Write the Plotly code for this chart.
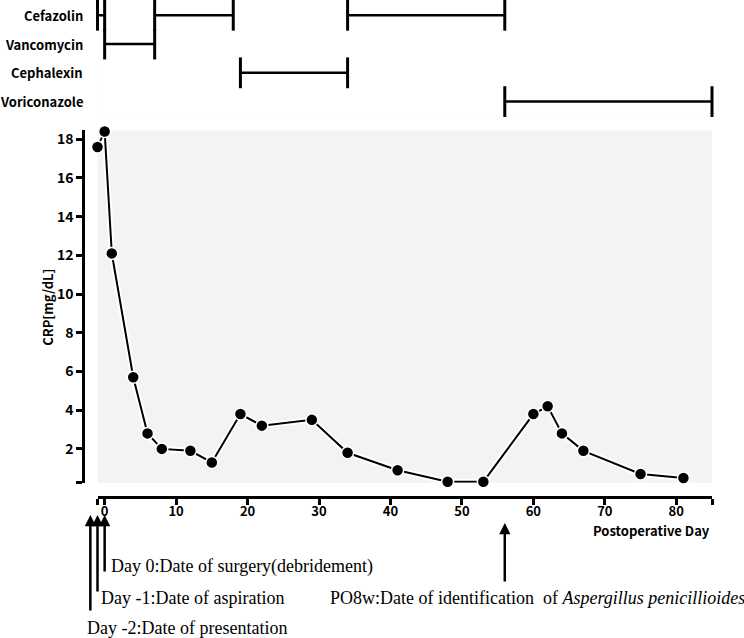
import plotly.graph_objects as go

# CRP course
days = [-1, 0, 1, 4, 6, 8, 12, 15, 19, 22, 29, 34, 41, 48, 53, 60, 62, 64, 67, 75, 81]
crp = [17.6, 18.4, 12.1, 5.7, 2.8, 2.0, 1.9, 1.3, 3.8, 3.2, 3.5, 1.8, 0.9, 0.3, 0.3,
       3.8, 4.2, 2.8, 1.9, 0.7, 0.5]

# antibiotic periods (start/end days)
abx_names = ["Cefazolin", "Vancomycin", "Cephalexin", "Voriconazole"]
abx_rows = [4, 3, 2, 1]
abx_start = [[-1, 7, 34], [0], [19], [56]]
abx_end = [[0, 18, 56], [7], [34], [85]]

# event arrows
event_days = [-2, -1, 0, 56]

x_ticks = [-1, 0, 10, 20, 30, 40, 50, 60, 70, 80, 85]
x_ticktext = ["", "0", "10", "20", "30", "40", "50", "60", "70", "80", ""]
y_ticks = [0.25, 2, 4, 6, 8, 10, 12, 14, 16, 18]
y_ticktext = ["", "2", "4", "6", "8", "10", "12", "14", "16", "18"]

X_RANGE = [-1, 85]
Y_RANGE = [0.25, 18.45]

W, H = 744, 638
ML, MR, MT, MB = 83, 32, 0, 141
PW = W - ML - MR
PH = H - MT - MB
XD0 = (97.5 - ML) / PW


def px_to_paper_y(py):
    return (PH - py) / PH


def px_to_paper_x(px):
    return (px - ML) / PW


def day_to_paper_x(d):
    return XD0 + (d - X_RANGE[0]) / (X_RANGE[1] - X_RANGE[0]) * (1 - XD0)


SANS = "Noto Sans CJK KR"
SERIF = "Liberation Serif"

fig = go.Figure()

# halo line + main line
fig.add_trace(go.Scatter(x=days, y=crp, mode="lines", line=dict(color="white", width=6),
                         hoverinfo="skip", showlegend=False, cliponaxis=False))
fig.add_trace(go.Scatter(x=days, y=crp, mode="lines+markers",
                         line=dict(color="black", width=2),
                         marker=dict(color="black", size=12, line=dict(color="white", width=1.5)),
                         showlegend=False, cliponaxis=False))

# antibiotic timeline
for name, row, starts, ends in zip(abx_names, abx_rows, abx_start, abx_end):
    lx, ly, cx, cy = [], [], [], []
    for s, e in zip(starts, ends):
        lx += [s, e, None]
        ly += [row, row, None]
        cx += [s, e]
        cy += [row, row]
    fig.add_trace(go.Scatter(x=lx, y=ly, mode="lines", line=dict(color="black", width=2.5),
                             xaxis="x2", yaxis="y2", showlegend=False, cliponaxis=False,
                             hoverinfo="skip"))
    fig.add_trace(go.Scatter(x=cx, y=cy, mode="markers",
                             marker=dict(symbol="line-ns", size=22,
                                         line=dict(color="black", width=3)),
                             xaxis="x2", yaxis="y2", showlegend=False, cliponaxis=False,
                             hoverinfo="skip"))
    fig.add_annotation(text=name, xref="paper", yref="y2", x=0, y=row, xanchor="right",
                       yanchor="middle", showarrow=False, xshift=2,
                       font=dict(family=SANS, size=13, color="black", weight="bold"))

# arrows
arrow_tip_px = [515, 515, 515, 523]
arrow_len = [97, 78, 58, 60]
for d, tip, ln in zip(event_days, arrow_tip_px, arrow_len):
    fig.add_annotation(text="", xref="paper", yref="paper", x=day_to_paper_x(d),
                       y=px_to_paper_y(tip), ax=0, ay=ln, showarrow=True,
                       arrowhead=2, arrowsize=0.9, arrowwidth=2.5, arrowcolor="black")

event_texts = [
    ("Day 0:Date of surgery(debridement)", 109, 566.7),
    ("Day -1:Date of aspiration", 99, 598.3),
    ("Day -2:Date of presentation", 85, 628.3),
    ("PO8w:Date of identification&nbsp; of <i>Aspergillus penicillioides</i>", 328, 598.3),
]
for txt, lx, cy in event_texts:
    fig.add_annotation(text=txt, xref="paper", yref="paper", x=px_to_paper_x(lx),
                       y=px_to_paper_y(cy), xanchor="left", yanchor="middle",
                       showarrow=False, font=dict(family=SERIF, size=18, color="black"))

fig.add_annotation(text="CRP[mg/dL]", xref="paper", yref="paper",
                   x=px_to_paper_x(48), y=px_to_paper_y(307), textangle=-90,
                   xanchor="center", yanchor="middle", showarrow=False,
                   font=dict(family=SANS, size=13, color="black", weight="bold"))
fig.add_annotation(text="Postoperative Day", xref="paper", yref="paper",
                   x=1.0, y=px_to_paper_y(531), xanchor="right", yanchor="middle",
                   showarrow=False,
                   font=dict(family=SANS, size=13, color="black", weight="bold"))

tickfont = dict(family=SANS, size=14, color="black", weight="bold")
xtickfont = dict(family=SANS, size=13, color="black", weight="bold")
main_y_dom = [px_to_paper_y(482.7), px_to_paper_y(129)]
abx_y_dom = [px_to_paper_y(114), 1.0]

fig.update_layout(
    width=W, height=H,
    margin=dict(l=ML, r=MR, t=MT, b=MB),
    paper_bgcolor="white",
    plot_bgcolor="#f3f3f3",
    xaxis=dict(domain=[XD0, 1], range=X_RANGE, anchor="free", position=0,
               showline=True, linecolor="black", linewidth=2.5,
               ticks="outside", ticklen=6, tickwidth=2.5, tickcolor="black",
               tickvals=x_ticks, ticktext=x_ticktext, tickfont=xtickfont,
               ticklabelstandoff=-4,
               showgrid=False, zeroline=False),
    yaxis=dict(domain=main_y_dom, range=Y_RANGE, anchor="free", position=0,
               showline=True, linecolor="black", linewidth=2.5,
               ticks="outside", ticklen=6, tickwidth=2.5, tickcolor="black",
               tickvals=y_ticks, ticktext=y_ticktext, tickfont=tickfont,
               showgrid=False, zeroline=False),
    xaxis2=dict(domain=[XD0, 1], range=X_RANGE, anchor="y2", visible=False,
                matches="x"),
    yaxis2=dict(domain=abx_y_dom, range=[0.516, 4.46], anchor="x2", visible=False),
)

# white background for the antibiotic panel
fig.add_shape(type="rect", xref="paper", yref="paper", x0=XD0, x1=1,
              y0=abx_y_dom[0], y1=1, fillcolor="white", line=dict(width=0), layer="below")

fig.write_html("out.html")
